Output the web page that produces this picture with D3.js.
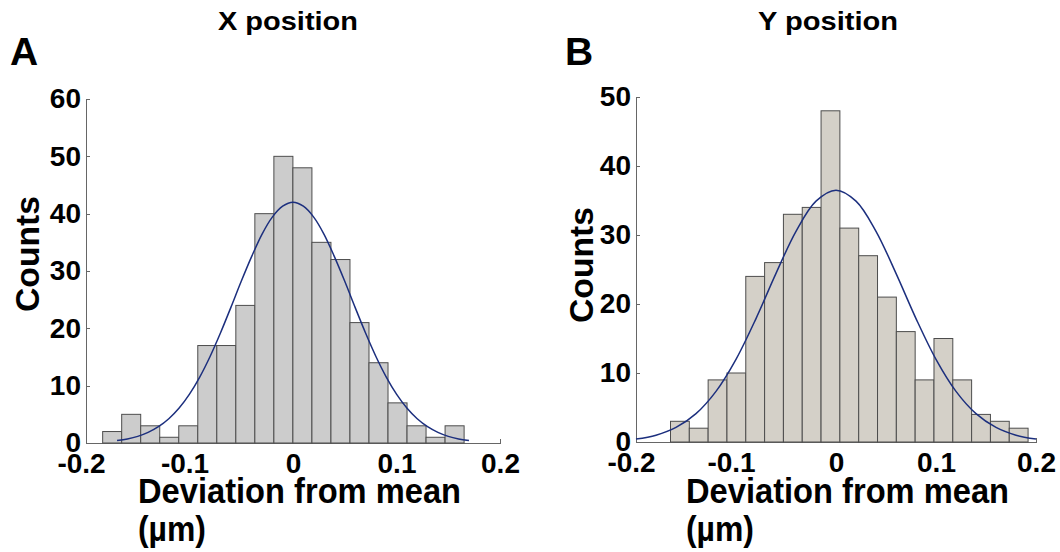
<!DOCTYPE html>
<html>
<head>
<meta charset="utf-8">
<script src="https://cdn.jsdelivr.net/npm/d3@7"></script>
<style>
  body { margin: 0; background: #fff; }
  svg { display: block; font-family: "Liberation Sans", Arial, sans-serif; font-weight: bold; }
  .axis path, .axis line { stroke: #666; shape-rendering: crispEdges; }
  .axis text { font-family: "Liberation Sans", Arial, sans-serif; font-weight: bold; font-size: 28px; fill: #000; }
</style>
</head>
<body>
<div id="chart"></div>
<script>
;(function() {
  'use strict';

  // Histogram of X position deviations (left panel)
  var xBinStart = -0.1839,
      xBinWidth = 0.01838;
  var xCounts = [2, 5, 3, 1, 3, 17, 17, 24, 40, 50, 48, 35, 32, 21, 14, 7, 3, 1, 3];
  // Fitted curve
  var xFitX = [-0.17, -0.16, -0.15, -0.14, -0.13, -0.12, -0.11, -0.10, -0.09, -0.08, -0.07, -0.06,
               -0.05, -0.04, -0.03, -0.02, -0.01, 0, 0.01, 0.02, 0.03, 0.04, 0.05, 0.06, 0.07,
               0.08, 0.09, 0.10, 0.11, 0.12, 0.13, 0.14, 0.15, 0.16, 0.17];
  var xFitY = [0.42, 0.71, 1.16, 1.85, 2.84, 4.23, 6.10, 8.53, 11.55, 15.14, 19.23, 23.66,
               28.2, 32.5, 36.4, 39.4, 41.3, 42, 41.3, 39.4, 36.4, 32.5, 28.2, 23.66, 19.23,
               15.14, 11.55, 8.53, 6.10, 4.23, 2.84, 1.85, 1.16, 0.71, 0.42];

  // Histogram of Y position deviations (right panel)
  var yBinStart = -0.1655,
      yBinWidth = 0.01882;
  var yCounts = [3, 2, 9, 10, 24, 26, 33, 34, 48, 31, 27, 21, 16, 9, 15, 9, 4, 3, 2];
  var yFitX = [-0.20, -0.18, -0.16, -0.14, -0.12, -0.10, -0.08, -0.06, -0.04, -0.02, 0,
               0.02, 0.04, 0.06, 0.08, 0.10, 0.12, 0.14, 0.16, 0.18, 0.20];
  var yFitY = [0.42, 0.99, 2.11, 4.11, 7.34, 11.98, 17.89, 24.44, 30.54, 34.91, 36.5,
               34.91, 30.54, 24.44, 17.89, 11.98, 7.34, 4.11, 2.11, 0.99, 0.42];

  var xTicks = [-0.2, -0.1, 0, 0.1, 0.2];
  var yTicksX = [0, 10, 20, 30, 40, 50, 60];
  var yTicksY = [0, 10, 20, 30, 40, 50];

  var W = 1060, H = 552;

  var svg = d3.select('#chart').append('svg')
      .attr('width', W)
      .attr('height', H);

  function translation(x, y) {
    return 'translate(' + x + ',' + y + ')';
  }

  function drawPanel(p) {
    var x = d3.scaleLinear().domain([-0.2, 0.2]).range([p.left, p.right]);
    var y = d3.scaleLinear().domain([0, p.yMax]).range([p.bottom, p.top]);

    var g = svg.append('g');

    // axes first, bars cover the inner ticks like in the original
    g.append('g')
        .attr('class', 'axis')
        .attr('transform', translation(0, p.bottom))
        .call(d3.axisBottom(x)
            .tickValues(xTicks)
            .tickSizeInner(-4)
            .tickSizeOuter(0)
            .tickPadding(10)
            .tickFormat(function(d) { return d === 0 ? '0' : String(d); }))
        .selectAll('text')
        .attr('dx', function(d) { return d < 0 ? -5 : 0; });

    g.append('g')
        .attr('class', 'axis')
        .attr('transform', translation(p.left, 0))
        .call(d3.axisLeft(y)
            .tickValues(p.yTicks)
            .tickSizeInner(-4)
            .tickSizeOuter(0)
            .tickPadding(5)
            .tickFormat(d3.format('d')));

    var bars = p.counts.map(function(c, i) {
      return { x0: p.binStart + i * p.binWidth, x1: p.binStart + (i + 1) * p.binWidth, n: c };
    });

    g.selectAll('.bar')
        .data(bars)
        .enter()
        .append('rect')
        .attr('class', 'bar')
        .attr('x', function(d) { return x(d.x0); })
        .attr('y', function(d) { return y(d.n); })
        .attr('width', function(d) { return x(d.x1) - x(d.x0); })
        .attr('height', function(d) { return y(0) - y(d.n); })
        .attr('fill', p.fill)
        .attr('stroke', '#4d4d4d')
        .attr('stroke-width', 1);

    var line = d3.line()
        .x(function(d) { return x(d[0]); })
        .y(function(d) { return y(d[1]); })
        .curve(d3.curveCatmullRom);

    g.append('path')
        .datum(d3.zip(p.fitX, p.fitY))
        .attr('d', line)
        .attr('fill', 'none')
        .attr('stroke', '#1c2f7e')
        .attr('stroke-width', 1.5);

    // texts
    g.append('text')
        .attr('x', p.letterX)
        .attr('y', 65)
        .style('font-size', '39px')
        .text(p.letter);

    g.append('text')
        .attr('x', p.titleX)
        .attr('y', 30)
        .attr('text-anchor', 'middle')
        .attr('textLength', 140)
        .attr('lengthAdjust', 'spacingAndGlyphs')
        .style('font-size', '25px')
        .text(p.title);

    g.append('text')
        .attr('transform', translation(p.countsX, p.countsY) + ' rotate(-90)')
        .attr('text-anchor', 'middle')
        .attr('textLength', 116)
        .attr('lengthAdjust', 'spacingAndGlyphs')
        .style('font-size', '33px')
        .text('Counts');

    g.append('text')
        .attr('x', p.labelX)
        .attr('y', 503)
        .attr('textLength', 323)
        .attr('lengthAdjust', 'spacingAndGlyphs')
        .style('font-size', '35px')
        .text('Deviation from mean');

    g.append('text')
        .attr('x', p.labelX)
        .attr('y', 541)
        .attr('textLength', 68)
        .attr('lengthAdjust', 'spacingAndGlyphs')
        .style('font-size', '35px')
        .text('(\u00b5m)');
  }

  drawPanel({
    left: 86, right: 500, top: 99, bottom: 443, yMax: 60, yTicks: yTicksX,
    binStart: xBinStart, binWidth: xBinWidth, counts: xCounts,
    fitX: xFitX, fitY: xFitY, fill: '#cccccc',
    letter: 'A', letterX: 10, title: 'X position', titleX: 288,
    countsX: 39, countsY: 254, labelX: 138
  });

  drawPanel({
    left: 636, right: 1036, top: 97, bottom: 442, yMax: 50, yTicks: yTicksY,
    binStart: yBinStart, binWidth: yBinWidth, counts: yCounts,
    fitX: yFitX, fitY: yFitY, fill: '#d4d0c8',
    letter: 'B', letterX: 565, title: 'Y position', titleX: 828,
    countsX: 593, countsY: 265, labelX: 686
  });

}());
</script>
</body>
</html>
